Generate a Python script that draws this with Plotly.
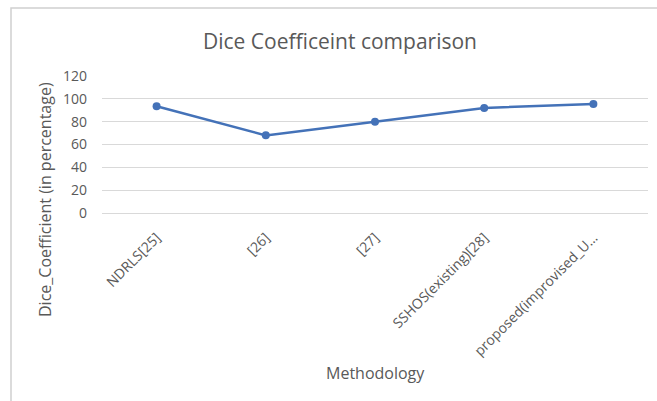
import plotly.graph_objects as go

categories = ["NDRLS[25]", "[26]", "[27]", "SSHOS(existing)[28]", "proposed(improvised_U\u2026"]
dice_values = [93.5, 68, 80, 92, 95.5]
y_ticks = [0, 20, 40, 60, 80, 100, 120]

W, H = 657, 401
ml, mr, mt, mb = 102, 9, 76, 188
pw = W - ml - mr
ph = H - mt - mb

def px_x(x):
    return (x - ml) / pw

def px_y(y):
    return (H - mb - y) / ph

fig = go.Figure()
fig.add_trace(go.Scatter(
    x=list(range(len(categories))), y=dice_values,
    mode="lines+markers",
    line=dict(color="#4472B8", width=2.5),
    marker=dict(color="#4472B8", size=8),
    showlegend=False,
))

font_family = "Open Sans, Lato, sans-serif"
grey = "#595959"
fig.update_layout(
    width=W, height=H,
    margin=dict(l=ml, r=mr, t=mt, b=mb),
    paper_bgcolor="white", plot_bgcolor="white",
    font=dict(family=font_family, color=grey),
    title=dict(text="Dice Coefficeint comparison", x=340 / W, xanchor="center",
               y=1 - 42 / H, yanchor="middle",
               font=dict(size=21, color=grey, family=font_family)),
    xaxis=dict(
        tickmode="array", tickvals=list(range(len(categories))), ticktext=categories,
        range=[-0.5, len(categories) - 0.5],
        tickangle=-45, tickfont=dict(size=14, color=grey),
        showgrid=False, zeroline=False, showline=False,
        ticks="outside", ticklen=10, tickcolor="rgba(0,0,0,0)",
    ),
    yaxis=dict(
        range=[0, 120], tickvals=y_ticks,
        tickfont=dict(size=14, color=grey),
        showgrid=True, gridcolor="#D9D9D9", gridwidth=1,
        zeroline=True, zerolinecolor="#D9D9D9", zerolinewidth=1,
        showline=False, ticks="", ticklabelstandoff=14,
    ),
    annotations=[
        dict(text="Methodology", xref="paper", yref="paper",
             x=px_x(375), y=px_y(373), xanchor="center", yanchor="middle",
             showarrow=False, font=dict(size=16, color=grey, family=font_family)),
        dict(text="Dice_Coefficient (in percentage)", xref="paper", yref="paper",
             x=px_x(45), y=px_y(200), xanchor="center", yanchor="middle", textangle=-90,
             showarrow=False, font=dict(size=16, color=grey, family=font_family)),
    ],
)

# outer chart frame (Excel chart area border)
fig.add_shape(type="rect", xref="paper", yref="paper",
              x0=px_x(11), x1=px_x(W + 20), y0=px_y(H + 20), y1=px_y(8),
              line=dict(color="#D0D0D0", width=1.5), fillcolor="rgba(0,0,0,0)", layer="below")

fig.write_html("out.html")
